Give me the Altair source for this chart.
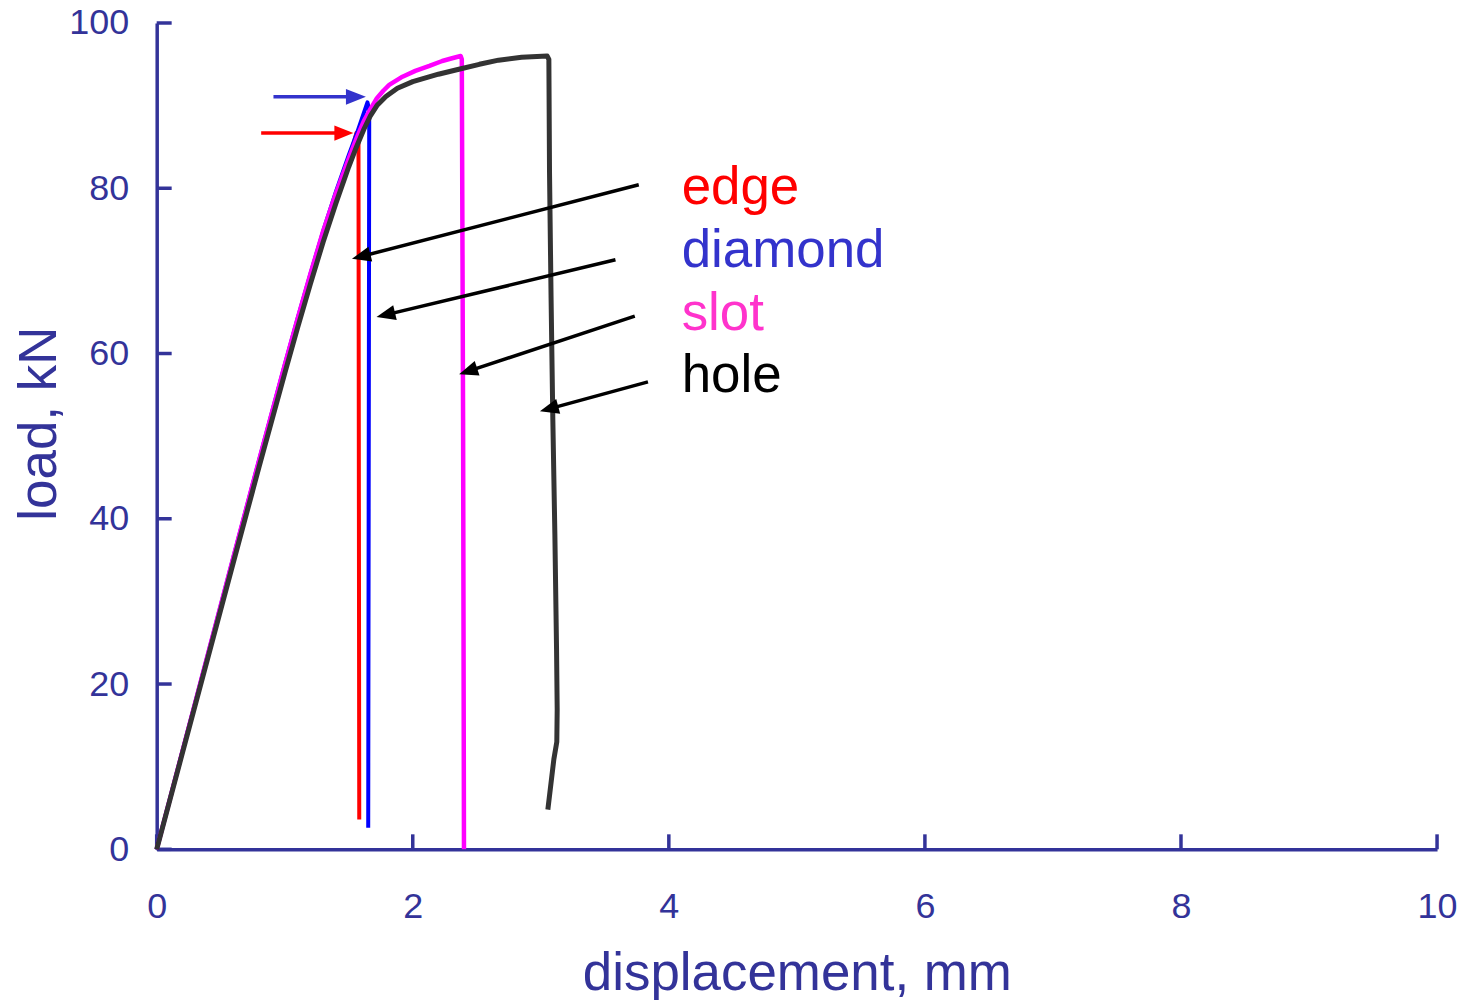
import math
import altair as alt
import pandas as pd

W, H = 1283, 828
AXIS = "#333399"
FONT = "Liberation Sans"

# ---- curves (displacement mm, load kN) ----
edge_x = [0, 0.2, 0.4, 0.6, 0.8, 1.0, 1.1, 1.2, 1.3, 1.4, 1.5, 1.56, 1.576, 1.582]
edge_y = [0, 11.7, 23.4, 35.1, 46.7, 58.1, 63.6, 69.0, 74.1, 78.9, 83.3, 86.7, 85.5, 3.6]

diamond_x = [0, 0.2, 0.4, 0.6, 0.8, 1.0, 1.1, 1.2, 1.3, 1.4, 1.5, 1.56, 1.60, 1.646,
             1.66, 1.652]
diamond_y = [0, 11.8, 23.6, 35.4, 47.1, 58.6, 64.2, 69.6, 74.8, 79.6, 84.0, 86.5, 88.3,
             90.4, 89.5, 2.6]

slot_x = [0, 0.2, 0.4, 0.6, 0.8, 1.0, 1.1, 1.2, 1.3, 1.4, 1.5, 1.56, 1.62, 1.67, 1.72,
          1.77, 1.816, 1.92, 2.02, 2.13, 2.23, 2.30, 2.374, 2.383, 2.393, 2.40]
slot_y = [0, 11.8, 23.6, 35.4, 47.1, 58.6, 64.2, 69.6, 74.8, 79.4, 83.6, 86.0, 88.2,
          89.6, 90.9, 91.8, 92.5, 93.5, 94.2, 94.8, 95.4, 95.7, 96.0, 95.6, 52.0, 0]

hole_x = [0, 0.2, 0.4, 0.6, 0.8, 1.0, 1.1, 1.2, 1.3, 1.4, 1.5, 1.56, 1.62, 1.67, 1.72,
          1.79, 1.88, 2.0, 2.2, 2.36, 2.52, 2.67, 2.85, 3.05, 3.063, 3.068, 3.08,
          3.094, 3.11, 3.123, 3.128, 3.125, 3.102, 3.055]
hole_y = [0, 11.6, 23.2, 34.8, 46.3, 57.6, 63.1, 68.4, 73.5, 78.2, 82.6, 85.0, 87.2,
          88.8, 90.0, 91.1, 92.1, 92.9, 93.8, 94.4, 95.0, 95.5, 95.85, 96.0, 95.6,
          82.0, 67.0, 52.0, 38.0, 24.2, 16.9, 13.0, 10.9, 4.8]

series_names = ["edge", "diamond", "slot", "hole"]
series_colors = ["#ff0000", "#0000ff", "#ff00ff", "#333333"]
series_widths = [4, 4, 4.5, 5]
series_x = [edge_x, diamond_x, slot_x, hole_x]
series_y = [edge_y, diamond_y, slot_y, hole_y]

# ---- labels ----
label_text = ["edge", "diamond", "slot", "hole"]
label_colors = ["#ff0000", "#3333cc", "#ff33cc", "#000000"]
label_x = [4.10, 4.10, 4.10, 4.10]
label_y = [78.1, 70.5, 62.8, 55.35]

# ---- arrows (tail -> tip, data units) ----
arrow_x1 = [3.765, 3.583, 3.734, 3.837, 0.912, 0.816]
arrow_y1 = [80.43, 71.34, 64.53, 56.56, 91.06, 86.68]
arrow_x2 = [1.525, 1.717, 2.362, 2.993, 1.634, 1.536]
arrow_y2 = [71.46, 64.41, 57.49, 53.0, 91.06, 86.68]
arrow_colors = ["#000000", "#000000", "#000000", "#000000", "#3333cc", "#ff0000"]
arrow_head_len = [19, 19, 19, 19, 20, 19]

x_ticks = [0, 2, 4, 6, 8, 10]
y_ticks = [0, 20, 40, 60, 80, 100]

# ---- build tables ----
px_x = W / 10.0
px_y = H / 100.0

rows = []
for name, xs_, ys_ in zip(series_names, series_x, series_y):
    for i, (a, b) in enumerate(zip(xs_, ys_)):
        rows.append({"series": name, "x": a, "y": b, "o": i})
curves = pd.DataFrame(rows)

arows = []
for x1, y1, x2, y2, c, L in zip(arrow_x1, arrow_y1, arrow_x2, arrow_y2, arrow_colors, arrow_head_len):
    dxp = (x2 - x1) * px_x
    dyp = -(y2 - y1) * px_y
    d = math.hypot(dxp, dyp)
    ang = math.degrees(math.atan2(dyp, dxp)) % 360
    back = 0.6 * L
    ex = x2 - (dxp / d) * back / px_x
    ey = y2 + (dyp / d) * back / px_y
    arows.append({"x1": x1, "y1": y1, "x2": x2, "y2": y2, "ex": ex, "ey": ey,
                  "c": c, "a": ang, "s": (2 * L) ** 2})
arrows = pd.DataFrame(arows)
labels = pd.DataFrame({"t": label_text, "c": label_colors, "x": label_x, "y": label_y})

xs = alt.Scale(domain=[0, 10], nice=False, zero=False)
ys = alt.Scale(domain=[0, 100], nice=False, zero=False)

x_axis = alt.Axis(values=x_ticks, format="d", title="displacement, mm",
                  labelBaseline="alphabetic", labelPadding=68, titleBaseline="alphabetic",
                  titleY=141, titleX=W / 2, titleAlign="center")
y_axis = alt.Axis(values=y_ticks, format="d", title="load, kN", labelPadding=28,
                  titleAngle=270, titleBaseline="alphabetic", titleX=-101, titleY=401,
                  titleAlign="center")

layers = []
xt = pd.DataFrame({"v": x_ticks})
yt = pd.DataFrame({"v": y_ticks})
layers.append(alt.Chart(xt).mark_rule(color=AXIS, strokeWidth=3.5).encode(
    x=alt.X("v:Q", scale=xs, axis=x_axis), y=alt.value(H), y2=alt.value(H - 15)))
layers.append(alt.Chart(yt).mark_rule(color=AXIS, strokeWidth=3.5).encode(
    y=alt.Y("v:Q", scale=ys, axis=y_axis), x=alt.value(0), x2=alt.value(15)))

for name, col, sw in zip(series_names, series_colors, series_widths):
    d = curves[curves["series"] == name]
    layers.append(alt.Chart(d).mark_line(color=col, strokeWidth=sw, strokeJoin="round",
                                         strokeCap="butt").encode(
        x=alt.X("x:Q", scale=xs), y=alt.Y("y:Q", scale=ys), order="o:Q"))

layers.append(alt.Chart(arrows).mark_rule(strokeWidth=3.5).encode(
    x=alt.X("x1:Q", scale=xs), y=alt.Y("y1:Q", scale=ys), x2="ex:Q", y2="ey:Q",
    color=alt.Color("c:N", scale=None)))
layers.append(alt.Chart(arrows).mark_point(
    shape="M0,0L-1,-0.4L-1,0.4Z", filled=True, opacity=1, strokeWidth=0).encode(
    x=alt.X("x2:Q", scale=xs), y=alt.Y("y2:Q", scale=ys),
    color=alt.Color("c:N", scale=None), angle=alt.Angle("a:Q", scale=None),
    size=alt.Size("s:Q", scale=None)))

layers.append(alt.Chart(labels).mark_text(align="left", baseline="alphabetic",
                                          fontSize=53, font=FONT).encode(
    x=alt.X("x:Q", scale=xs), y=alt.Y("y:Q", scale=ys), text="t:N",
    color=alt.Color("c:N", scale=None)))

chart = alt.layer(*layers).properties(
    width=W, height=H,
    autosize=alt.AutoSizeParams(type="none"),
    padding={"left": 149, "top": 14, "right": 25, "bottom": 150},
).configure_view(stroke=None).configure_axis(
    domainColor=AXIS, domainWidth=3.5, labelColor=AXIS, labelFont=FONT, labelFontSize=36,
    ticks=False, tickSize=0, grid=False, titleColor=AXIS, titleFont=FONT,
    titleFontSize=53, titleFontWeight="normal", labelFlush=False, labelOverlap=False,
)

chart.save("out.html", embed_options={"renderer": "svg", "actions": False})
